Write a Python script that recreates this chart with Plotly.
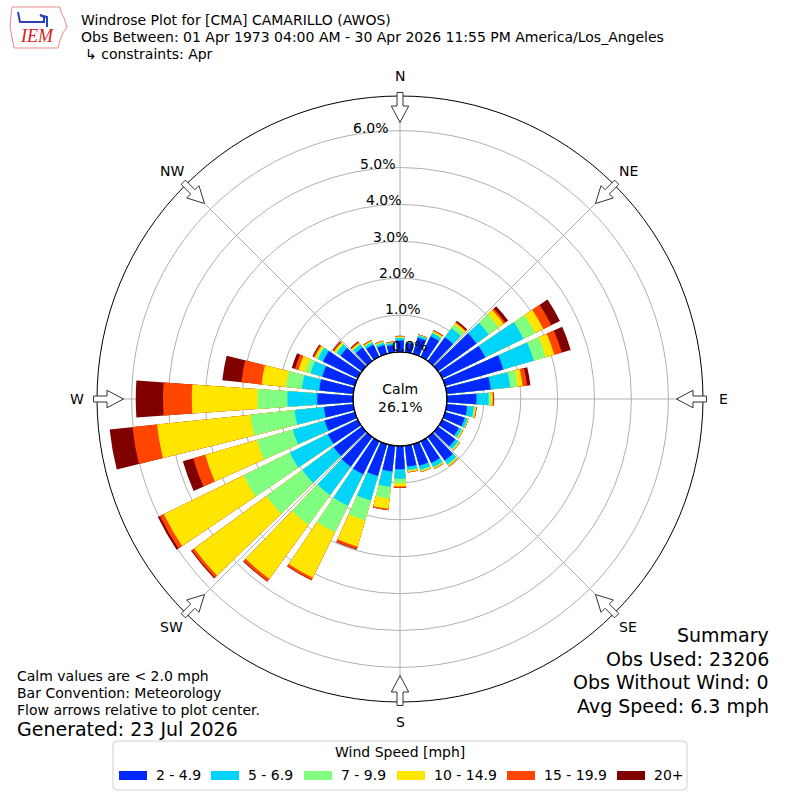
import math
import plotly.graph_objects as go

# wind direction bins (deg, where the wind blows from)
directions = list(range(0, 360, 10))

speed_bins = ["2 - 4.9", "5 - 6.9", "7 - 9.9", "10 - 14.9", "15 - 19.9", "20+"]
bin_colors = ["#0028ff", "#00d4fa", "#80ff80", "#ffe600", "#ff4500", "#800000"]

# outer edge of each speed band along every direction (cumulative % of obs)
cum_2_5 = [0.31, 0.26, 0.46, 0.62, 0.80, 1.29, 1.30, 1.64, 1.20, 0.80, 0.56, 0.55,
           0.50, 0.58, 0.79, 0.66, 0.61, 0.57, 0.63, 0.70, 0.90, 1.00, 1.00, 0.95,
           0.90, 0.85, 0.80, 0.97, 0.93, 0.92, 1.05, 0.72, 0.45, 0.36, 0.25, 0.20]
cum_5_7 = [0.38, 0.29, 0.52, 0.72, 1.10, 1.70, 2.45, 2.50, 1.73, 1.13, 0.74, 0.62,
           0.58, 0.68, 0.91, 0.78, 0.72, 0.66, 0.89, 1.12, 1.59, 1.95, 1.95, 2.00,
           2.05, 1.75, 1.60, 1.78, 1.40, 1.25, 1.20, 0.85, 0.55, 0.43, 0.31, 0.25]
cum_7_10 = [0.40, 0.30, 0.53, 0.75, 1.22, 2.03, 2.80, 2.84, 1.93, 1.19, 0.77, 0.64,
            0.61, 0.71, 0.94, 0.80, 0.75, 0.68, 1.01, 1.44, 2.15, 2.75, 2.95, 3.20,
            3.45, 2.76, 2.80, 2.59, 1.83, 1.40, 1.25, 0.88, 0.58, 0.46, 0.34, 0.27]
cum_10_15 = [0.42, 0.30, 0.54, 0.78, 1.28, 2.20, 3.05, 3.08, 2.07, 1.24, 0.80, 0.65,
             0.63, 0.73, 0.97, 0.83, 0.78, 0.72, 1.10, 1.72, 2.89, 4.12, 4.75, 5.62,
             5.85, 4.22, 5.35, 4.37, 2.50, 1.59, 1.30, 0.93, 0.61, 0.48, 0.36, 0.28]
cum_15_20 = [0.44, 0.31, 0.55, 0.80, 1.31, 2.26, 3.29, 3.29, 2.19, 1.27, 0.82, 0.66,
             0.64, 0.74, 0.98, 0.84, 0.79, 0.73, 1.13, 1.76, 2.96, 4.19, 4.83, 5.70,
             5.97, 4.56, 6.02, 5.15, 3.05, 1.69, 1.34, 0.96, 0.64, 0.50, 0.37, 0.29]
cum_20p = [0.44, 0.31, 0.55, 0.81, 1.35, 2.35, 3.55, 3.54, 2.28, 1.28, 0.82, 0.66,
           0.64, 0.74, 0.98, 0.84, 0.79, 0.73, 1.14, 1.76, 2.98, 4.20, 4.85, 5.73,
           6.03, 4.85, 6.64, 5.89, 3.57, 1.78, 1.37, 0.98, 0.66, 0.51, 0.38, 0.30]
bands = [cum_2_5, cum_5_7, cum_7_10, cum_10_15, cum_15_20, cum_20p]

radial_ticks = [0, 1, 2, 3, 4, 5, 6]
compass = ["N", "NE", "E", "SE", "S", "SW", "W", "NW"]
calm_pct = 26.1

W = H = 800
CX, CY, R_OUT = 400, 399, 303   # polar centre / radius in pixels
HOLE = 0.155
R_MAX = 6.94


def px(x, y):
  return x / W, 1 - y / H


def r_to_px(v):
  # same linear mapping the polar subplot uses (hole .. outer edge)
  r0 = HOLE * R_OUT
  return r0 + (R_OUT - r0) * v / R_MAX


def note(x, y, text, size=14, xanchor="center", yanchor="middle", **kw):
  fx, fy = px(x, y)
  d = dict(x=fx, y=fy, xref="paper", yref="paper", text=text, showarrow=False,
           xanchor=xanchor, yanchor=yanchor, font=dict(size=size), borderpad=0)
  d.update(kw)
  return d


def poly(pts, close=True):
  s = "M" + " L".join("%.5f,%.5f" % px(x, y) for x, y in pts)
  return s + (" Z" if close else "")


def arrow_path(theta):
  t = math.radians(theta)
  pts = [(306.5, -3), (293, -3), (293, -8.7), (276.5, 0), (293, 8.7), (293, 3), (306.5, 3)]
  out = []
  for u, v in pts:
    out.append((CX + u * math.sin(t) + v * math.cos(t),
                CY - u * math.cos(t) + v * math.sin(t)))
  return poly(out)


def round_rect(x0, y0, x1, y1, rad):
  p = lambda x, y: "%.5f,%.5f" % px(x, y)
  return ("M" + p(x0 + rad, y0) + " L" + p(x1 - rad, y0) + " Q" + p(x1, y0) + " " + p(x1, y0 + rad)
          + " L" + p(x1, y1 - rad) + " Q" + p(x1, y1) + " " + p(x1 - rad, y1)
          + " L" + p(x0 + rad, y1) + " Q" + p(x0, y1) + " " + p(x0, y1 - rad)
          + " L" + p(x0, y0 + rad) + " Q" + p(x0, y0) + " " + p(x0 + rad, y0) + " Z")


fig = go.Figure()
# overlay: widest band first, inner bands drawn on top
for i in reversed(range(len(bands))):
  fig.add_trace(go.Barpolar(r=bands[i], theta=directions, width=8,
                            name=speed_bins[i], marker_color=bin_colors[i],
                            marker_line_width=0, showlegend=False))

shapes = []
annotations = []

# calm circle
shapes.append(dict(type="circle", xref="paper", yref="paper",
                   x0=(CX - 47) / W, x1=(CX + 47) / W, y0=1 - (CY + 47) / H, y1=1 - (CY - 47) / H,
                   line=dict(color="black", width=1.2), fillcolor="rgba(0,0,0,0)", layer="above"))
annotations.append(note(CX, 398, "Calm<br>%.1f%%" % calm_pct))

# radial labels, matplotlib style: left/bottom anchored on a spoke 10 deg west of north
lab_t = math.radians(-10)
for v in radial_ticks:
  rp = r_to_px(v)
  annotations.append(note(CX + rp * math.sin(lab_t), CY - rp * math.cos(lab_t),
                          "%.1f%%" % v, xanchor="left", yanchor="bottom",
                          xshift=-1, yshift=-2))

# flow arrows + compass labels
for k, lab in enumerate(compass):
  th = k * 45
  shapes.append(dict(type="path", xref="paper", yref="paper", path=arrow_path(th),
                     fillcolor="white", line=dict(color="#333333", width=1), layer="above"))
  t = math.radians(th)
  annotations.append(note(CX + 323 * math.sin(t), CY - 323 * math.cos(t), lab))

# header
header = ["Windrose Plot for [CMA] CAMARILLO (AWOS)",
          "Obs Between: 01 Apr 1973 04:00 AM - 30 Apr 2026 11:55 PM America/Los_Angeles",
          "\u21b3 constraints: Apr"]
for j, txt in enumerate(header):
  annotations.append(note(80 + (4 if j == 2 else 0), 20 + 17 * j, txt, xanchor="left"))

# IEM logo (rough)
iowa = [(12, 7), (60, 7), (61, 12), (64, 18), (67, 27), (63, 33), (60, 40), (58, 48),
        (14, 48), (12, 38), (10, 26), (11, 15)]
shapes.append(dict(type="path", xref="paper", yref="paper", path=poly(iowa),
                   line=dict(color="#e88a8a", width=1), fillcolor="white"))
icon = [(18, 12), (20, 22), (44, 22), (44, 17), (40, 15), (47, 17), (47, 27)]
shapes.append(dict(type="path", xref="paper", yref="paper", path=poly(icon, close=False),
                   line=dict(color="#2a3fbf", width=2)))
iem = note(37, 36, "<i>IEM</i>", size=18)
iem["font"] = dict(family="Liberation Serif", size=18, color="#d42020")
annotations.append(iem)

# notes bottom left
notes = ["Calm values are < 2.0 mph", "Bar Convention: Meteorology",
         "Flow arrows relative to plot center."]
for j, txt in enumerate(notes):
  annotations.append(note(16, 676 + 17 * j, txt, xanchor="left"))
annotations.append(note(16, 729, "Generated: 23 Jul 2026", size=19, xanchor="left"))

# summary bottom right
summary = ["Summary", "Obs Used: 23206", "Obs Without Wind: 0", "Avg Speed: 6.3 mph"]
for j, txt in enumerate(summary):
  annotations.append(note(770, 635 + 23.7 * j, txt, size=19, xanchor="right"))

# legend box (drawn by hand to get the wide swatches)
shapes.append(dict(type="path", xref="paper", yref="paper",
                   path=round_rect(113, 741, 687, 790, 4),
                   line=dict(color="#d0d0d0", width=1), fillcolor="white"))
annotations.append(note(400, 752, "Wind Speed [mph]"))
legend_x = [119, 211, 304, 397, 507, 617]
for i, lab in enumerate(speed_bins):
  x0 = legend_x[i]
  shapes.append(dict(type="rect", xref="paper", yref="paper", x0=x0 / W, x1=(x0 + 28) / W,
                     y0=1 - 780 / H, y1=1 - 771 / H, line=dict(width=0),
                     fillcolor=bin_colors[i]))
  annotations.append(note(x0 + 36, 775, lab, xanchor="left"))

fig.update_layout(
  width=W, height=H, margin=dict(l=0, r=0, t=0, b=0),
  paper_bgcolor="white", showlegend=False,
  font=dict(family="DejaVu Sans", size=14, color="black"),
  polar=dict(
    domain=dict(x=[0.12, 0.88], y=[0.1225, 0.88]),
    hole=HOLE, bgcolor="white", barmode="overlay",
    radialaxis=dict(range=[0, R_MAX], tickvals=radial_ticks, showticklabels=False,
                    showline=False, ticks="", gridcolor="#b0b0b0", gridwidth=1,
                    layer="above traces"),
    angularaxis=dict(rotation=90, direction="clockwise",
                     tickvals=[0, 45, 90, 135, 180, 225, 270, 315],
                     showticklabels=False, ticks="", gridcolor="#b0b0b0", gridwidth=1,
                     showline=True, linecolor="black", linewidth=1,
                     layer="above traces"),
  ),
  shapes=shapes, annotations=annotations,
)

fig.write_html("out.html", config={"displayModeBar": False},
               post_script="document.body.style.margin='0px';")
